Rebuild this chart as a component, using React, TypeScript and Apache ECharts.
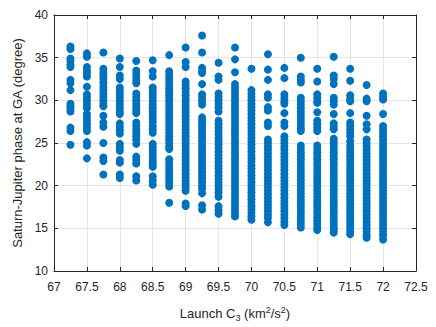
import React, { useEffect, useRef } from "react";
import * as echarts from "echarts";

const xTicks = [67, 67.5, 68, 68.5, 69, 69.5, 70, 70.5, 71, 71.5, 72, 72.5];
const yTicks = [10, 15, 20, 25, 30, 35, 40];

const c3Values = [67.25, 67.5, 67.75, 68, 68.25, 68.5, 68.75, 69, 69.25, 69.5, 69.75, 70, 70.25, 70.5, 70.75, 71, 71.25, 71.5, 71.75, 72];

const ph67_25 = [36.3, 36.0, 34.9, 34.6, 34.2, 33.9, 32.4, 32.0, 31.2, 29.6, 29.3, 29.0, 28.7, 26.8, 26.4, 24.8];
const ph67_5 = [35.5, 35.1, 33.9, 33.5, 33.2, 32.8, 31.6, 30.7, 30.3, 29.9, 29.5, 29.1, 28.4, 28.0, 27.6, 27.2, 26.8, 26.4, 25.1, 24.7, 23.2];
const ph67_75 = [35.6, 33.7, 33.3, 32.9, 32.5, 32.1, 31.6, 31.2, 30.8, 30.4, 30.0, 29.6, 29.3, 28.2, 27.4, 26.9, 25.0, 23.3, 22.9, 21.3];
const ph68 = [34.9, 33.9, 32.9, 32.5, 31.5, 31.1, 30.7, 30.3, 29.9, 29.5, 29.1, 28.7, 28.4, 27.3, 26.9, 26.5, 26.1, 24.9, 24.5, 24.1, 23.0, 22.7, 21.3, 20.9];
const ph68_25 = [34.6, 33.5, 33.1, 32.7, 32.3, 32.0, 30.8, 30.4, 30.0, 29.6, 29.2, 28.8, 28.5, 27.4, 27.0, 26.6, 26.2, 25.8, 25.4, 24.9, 23.4, 23.0, 22.6, 21.1, 20.6];
const ph68_5 = [34.7, 33.4, 32.8, 31.5, 31.1, 30.7, 30.3, 29.9, 29.5, 29.1, 28.7, 28.3, 27.9, 27.5, 27.0, 26.6, 26.2, 24.9, 24.5, 24.1, 23.7, 23.3, 22.9, 22.5, 22.2, 21.1, 20.6, 20.1];
const ph68_75 = [35.3, 33.4, 33.0, 32.6, 32.2, 31.8, 31.4, 31.0, 30.6, 30.2, 29.8, 29.4, 29.0, 28.6, 28.2, 27.8, 27.4, 27.0, 26.6, 26.2, 25.8, 25.4, 25.0, 24.6, 24.3, 23.1, 22.7, 22.3, 21.9, 21.5, 21.1, 20.7, 20.3, 19.9, 18.0];
const ph69 = [36.2, 34.5, 33.9, 32.2, 31.8, 31.4, 31.0, 30.6, 30.2, 29.8, 29.4, 29.0, 28.6, 28.2, 27.8, 27.4, 27.0, 26.6, 26.2, 25.8, 25.4, 25.0, 24.6, 24.2, 23.8, 23.4, 23.0, 22.6, 22.2, 21.8, 21.4, 21.0, 20.6, 20.2, 19.8, 19.4, 17.9, 17.6];
const ph69_25 = [37.6, 35.6, 33.8, 33.4, 33.2, 31.9, 30.7, 30.3, 29.9, 29.5, 28.0, 27.6, 27.2, 26.8, 26.4, 26.0, 25.6, 25.2, 24.8, 24.4, 24.0, 23.6, 23.2, 22.8, 22.4, 22.0, 21.6, 21.2, 20.8, 20.4, 20.0, 19.6, 19.1, 17.7, 17.2];
const ph69_5 = [34.4, 32.8, 32.4, 30.8, 30.4, 30.0, 29.6, 29.2, 28.7, 27.6, 27.2, 26.8, 26.4, 26.0, 25.6, 25.2, 24.8, 24.4, 24.0, 23.6, 23.2, 22.8, 22.4, 22.0, 21.6, 21.2, 20.8, 20.4, 20.0, 19.6, 19.2, 18.7, 17.6, 17.1, 16.7];
const ph69_75 = [36.2, 34.8, 33.3, 31.9, 31.5, 31.1, 30.7, 30.3, 29.9, 29.5, 29.1, 28.7, 28.3, 27.9, 27.5, 27.1, 26.7, 26.3, 25.9, 25.5, 25.1, 24.7, 24.3, 23.9, 23.5, 23.1, 22.7, 22.3, 21.9, 21.5, 21.1, 20.7, 20.3, 19.9, 19.5, 19.1, 18.7, 18.3, 17.9, 17.5, 17.1, 16.7, 16.4];
const ph70 = [33.7, 31.2, 30.8, 30.4, 30.0, 29.6, 29.2, 28.8, 28.4, 28.0, 27.6, 27.2, 26.8, 26.4, 26.0, 25.6, 25.2, 24.8, 24.4, 24.0, 23.6, 23.2, 22.8, 22.4, 22.0, 21.6, 21.2, 20.8, 20.4, 20.0, 19.6, 19.2, 18.8, 18.4, 18.0, 17.6, 17.2, 16.8, 16.4, 16.0];
const ph70_25 = [35.4, 33.6, 32.4, 30.7, 30.3, 29.2, 28.8, 27.4, 27.0, 25.4, 25.0, 24.6, 24.2, 23.8, 23.4, 23.0, 22.6, 22.2, 21.8, 21.4, 21.0, 20.6, 20.2, 19.8, 19.4, 19.0, 18.6, 18.2, 17.8, 17.4, 17.0, 16.6, 16.2, 15.7];
const ph70_5 = [33.8, 32.6, 30.7, 30.3, 29.9, 29.6, 28.5, 27.4, 27.0, 25.8, 25.4, 25.0, 24.6, 24.2, 23.8, 23.4, 23.0, 22.6, 22.2, 21.8, 21.4, 21.0, 20.6, 20.2, 19.8, 19.4, 19.0, 18.6, 18.2, 17.8, 17.4, 17.0, 16.6, 16.2, 15.8, 15.4];
const ph70_75 = [35.0, 32.8, 32.4, 32.1, 30.3, 29.9, 29.5, 29.1, 28.7, 28.3, 27.9, 27.5, 27.1, 26.7, 26.4, 24.7, 24.3, 23.9, 23.5, 23.1, 22.7, 22.3, 21.9, 21.5, 21.1, 20.7, 20.3, 19.9, 19.5, 19.1, 18.7, 18.3, 17.9, 17.5, 17.1, 16.7, 16.3, 15.9, 15.5, 15.1];
const ph71 = [33.7, 32.2, 30.7, 30.3, 29.9, 29.7, 28.6, 27.6, 27.2, 26.8, 26.4, 24.7, 24.3, 23.9, 23.5, 23.1, 22.7, 22.3, 21.9, 21.5, 21.1, 20.7, 20.3, 19.9, 19.5, 19.1, 18.7, 18.3, 17.9, 17.5, 17.1, 16.7, 16.3, 15.9, 15.5, 15.1, 14.8];
const ph71_25 = [35.1, 32.9, 32.5, 31.9, 30.3, 29.9, 29.5, 28.4, 27.3, 26.9, 26.6, 25.5, 25.1, 24.7, 24.3, 23.9, 23.5, 23.1, 22.7, 22.3, 21.9, 21.5, 21.1, 20.7, 20.3, 19.9, 19.5, 19.1, 18.7, 18.3, 17.9, 17.5, 17.1, 16.7, 16.3, 15.9, 15.5, 15.1, 14.8, 14.5];
const ph71_5 = [33.7, 32.3, 30.6, 30.2, 29.9, 28.5, 27.4, 27.0, 26.6, 26.2, 25.8, 25.2, 24.7, 24.3, 23.9, 23.5, 23.1, 22.7, 22.3, 21.9, 21.5, 21.1, 20.7, 20.3, 19.9, 19.5, 19.1, 18.7, 18.3, 17.9, 17.5, 17.1, 16.7, 16.3, 15.9, 15.5, 15.1, 14.7, 14.3];
const ph71_75 = [31.8, 30.2, 29.9, 28.2, 27.2, 26.6, 25.4, 25.0, 24.6, 24.2, 23.8, 23.4, 23.0, 22.6, 22.2, 21.8, 21.4, 21.0, 20.6, 20.2, 19.8, 19.4, 19.0, 18.6, 18.2, 17.8, 17.4, 17.0, 16.6, 16.2, 15.8, 15.4, 15.0, 14.6, 14.2, 13.9];
const ph72 = [30.8, 30.4, 30.1, 28.4, 27.0, 26.6, 26.2, 25.8, 25.4, 25.0, 24.6, 24.2, 23.8, 23.4, 23.0, 22.6, 22.2, 21.8, 21.4, 21.0, 20.6, 20.2, 19.8, 19.4, 19.0, 18.6, 18.2, 17.8, 17.4, 17.0, 16.6, 16.2, 15.8, 15.4, 15.0, 14.6, 14.2, 13.7];

const phaseColumns = [ph67_25, ph67_5, ph67_75, ph68, ph68_25, ph68_5, ph68_75, ph69, ph69_25, ph69_5, ph69_75, ph70, ph70_25, ph70_5, ph70_75, ph71, ph71_25, ph71_5, ph71_75, ph72];

const FONT = "Liberation Sans, Arial, Helvetica, sans-serif";
const AXIS_COLOR = "#262626";

export default function App() {
  const ref = useRef<HTMLDivElement>(null);
  useEffect(() => {
    if (!ref.current) return;
    const chart = echarts.init(ref.current, null, { renderer: "svg" });
    const data: number[][] = [];
    c3Values.forEach((c3, i) => {
      phaseColumns[i].forEach((p) => data.push([c3, p]));
    });
    const xMin = xTicks[0];
    const xMax = xTicks[xTicks.length - 1];
    const yMin = yTicks[0];
    const yMax = yTicks[yTicks.length - 1];
    const common = {
      axisLine: { show: true, onZero: false, lineStyle: { color: AXIS_COLOR, width: 1 } },
      axisTick: { show: true, inside: true, length: 4, lineStyle: { color: AXIS_COLOR } },
    };
    chart.setOption({
      animation: false,
      backgroundColor: "#ffffff",
      grid: { left: 54, top: 15, width: 362, height: 260, containLabel: false },
      xAxis: [
        {
          type: "value",
          min: xMin,
          max: xMax,
          interval: 0.5,
          ...common,
          axisLabel: { color: AXIS_COLOR, fontFamily: FONT, fontSize: 12, margin: 10 },
          splitLine: { show: true, lineStyle: { color: "#e6e6e6", width: 1 } },
          name: "{a|Launch C}{sub|3}{a| (km}{sup|2}{a|/s}{sup|2}{a|)}",
          nameLocation: "middle",
          nameGap: 33,
          nameTextStyle: {
            color: AXIS_COLOR,
            fontFamily: FONT,
            fontSize: 13,
            rich: {
              a: { fontFamily: FONT, fontSize: 13, color: AXIS_COLOR },
              sub: { fontFamily: FONT, fontSize: 9, color: AXIS_COLOR, padding: [9, 0, 0, 0] },
              sup: { fontFamily: FONT, fontSize: 9, color: AXIS_COLOR, padding: [0, 0, 7, 0] },
            },
          },
        },
        {
          type: "value",
          position: "top",
          min: xMin,
          max: xMax,
          interval: 0.5,
          ...common,
          axisLabel: { show: false },
          splitLine: { show: false },
        },
      ],
      yAxis: [
        {
          type: "value",
          min: yMin,
          max: yMax,
          interval: 5,
          ...common,
          axisLabel: { color: AXIS_COLOR, fontFamily: FONT, fontSize: 12, margin: 6 },
          splitLine: { show: true, lineStyle: { color: "#e6e6e6", width: 1 } },
          name: "Saturn-Jupiter phase at GA (degree)",
          nameLocation: "middle",
          nameGap: 24,
          nameTextStyle: { color: AXIS_COLOR, fontFamily: FONT, fontSize: 13 },
        },
        {
          type: "value",
          position: "right",
          min: yMin,
          max: yMax,
          interval: 5,
          ...common,
          axisLabel: { show: false },
          splitLine: { show: false },
        },
      ],
      series: [
        {
          type: "scatter",
          xAxisIndex: 0,
          yAxisIndex: 0,
          data,
          symbol: "circle",
          symbolSize: 8,
          itemStyle: { color: "#0072BD", opacity: 1 },
          z: 3,
        },
      ],
    });
    return () => chart.dispose();
  }, []);
  return (
    <div
      ref={ref}
      style={{ position: "absolute", left: 0, top: 0, width: 436, height: 327 }}
    />
  );
}
